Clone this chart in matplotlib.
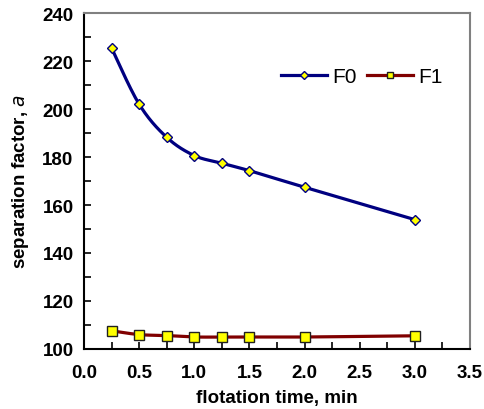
import numpy as np
import matplotlib
matplotlib.use("Agg")
import matplotlib.pyplot as plt
from matplotlib.ticker import MultipleLocator

plt.rcParams['font.family'] = ['Liberation Sans', 'DejaVu Sans']

# flotation time (min) and separation factor for the two feeds
time_min = [0.25, 0.5, 0.75, 1.0, 1.25, 1.5, 2.0, 3.0]
f0 = [225.4, 202.0, 188.2, 180.6, 177.4, 174.3, 167.4, 153.9]
f1 = [107.6, 106.0, 105.6, 105.0, 105.0, 105.0, 105.0, 105.5]


def smooth(x, y, n=30):
    # Catmull-Rom curve through the points, like a spreadsheet "smoothed line"
    x = np.asarray(x, float)
    y = np.asarray(y, float)
    px = np.concatenate([[x[0]], x, [x[-1]]])
    py = np.concatenate([[y[0]], y, [y[-1]]])
    xs, ys = [], []
    s = np.linspace(0, 1, n)
    for i in range(1, len(px) - 2):
        p0, p1, p2, p3 = [np.array([px[j], py[j]]) for j in range(i - 1, i + 3)]
        m1 = 0.5 * (p2 - p0)
        m2 = 0.5 * (p3 - p1)
        h00 = 2 * s**3 - 3 * s**2 + 1
        h10 = s**3 - 2 * s**2 + s
        h01 = -2 * s**3 + 3 * s**2
        h11 = s**3 - s**2
        pts = (np.outer(h00, p1) + np.outer(h10, m1)
               + np.outer(h01, p2) + np.outer(h11, m2))
        xs.extend(pts[:, 0])
        ys.extend(pts[:, 1])
    return np.array(xs), np.array(ys)


fig = plt.figure(figsize=(4.85, 4.10), dpi=100)
ax = fig.add_axes([84 / 485, 60 / 410, 386 / 485, 336 / 410])

navy = '#000080'
maroon = '#800000'

sx, sy = smooth(time_min, f0)
ax.plot(sx, sy, color=navy, lw=2.3, zorder=2)
ax.plot(time_min, f0, ls='none', marker='D', ms=5.5, mfc='#ffff00',
        mec=navy, mew=1.0, zorder=3)
sx, sy = smooth(time_min, f1)
ax.plot(sx, sy, color=maroon, lw=2.3, zorder=2)
ax.plot(time_min, f1, ls='none', marker='s', ms=7, mfc='#ffff00',
        mec='#202020', mew=1.0, zorder=3)

# legend proxies
h0, = ax.plot([], [], color=navy, lw=2.3, marker='D', ms=4.5,
              mfc='#ffff00', mec=navy, mew=1.0)
h1, = ax.plot([], [], color=maroon, lw=2.3, marker='s', ms=5,
              mfc='#ffff00', mec='#202020', mew=1.0)
ax.legend([h0, h1], ['F0', 'F1'], ncol=2, frameon=False, fontsize=15,
          loc='center', bbox_to_anchor=(0.72, 0.81), handlelength=2.2,
          handletextpad=0.25, columnspacing=0.5)

ax.set_xlim(0, 3.5)
ax.set_ylim(100, 240)
ax.xaxis.set_major_locator(MultipleLocator(0.5))
ax.xaxis.set_minor_locator(MultipleLocator(0.25))
ax.yaxis.set_major_locator(MultipleLocator(20))
ax.yaxis.set_minor_locator(MultipleLocator(10))
ax.xaxis.set_major_formatter(plt.FormatStrFormatter('%.1f'))

ax.tick_params(which='both', direction='in', top=False, right=False,
               labelsize=13.5, width=1.2, color='black')
ax.tick_params(which='major', length=5)
ax.tick_params(which='minor', length=5)
ax.tick_params(axis='x', pad=10.5)
ax.tick_params(axis='y', pad=7.5)
for lab in ax.get_xticklabels() + ax.get_yticklabels():
    lab.set_fontweight('bold')

ax.spines['left'].set_color('black')
ax.spines['bottom'].set_color('black')
ax.spines['left'].set_linewidth(1.5)
ax.spines['bottom'].set_linewidth(1.5)
ax.spines['top'].set_color('#808080')
ax.spines['right'].set_color('#808080')
ax.spines['top'].set_linewidth(1.5)
ax.spines['right'].set_linewidth(1.5)

ax.set_xlabel('flotation time, min', fontsize=13.5, fontweight='bold', labelpad=6)
ax.set_ylabel(r'separation factor, $\mathit{a}$', fontsize=13.5,
              fontweight='bold', labelpad=8)

fig.savefig('out.png', dpi=100)
